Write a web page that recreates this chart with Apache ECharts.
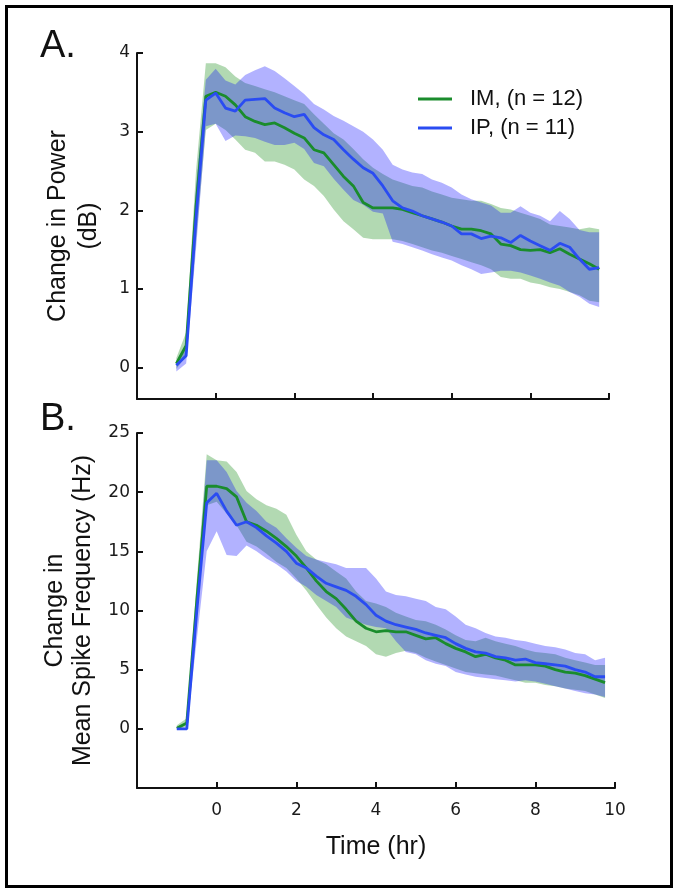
<!DOCTYPE html>
<html>
<head>
<meta charset="utf-8">
<script src="https://cdn.jsdelivr.net/npm/echarts@6/dist/echarts.min.js"></script>
<style>
html,body{margin:0;padding:0;background:#fff;}
#chart{width:680px;height:893px;}
</style>
</head>
<body>
<div id="chart"></div>
<script>
// time (hr)
const time = [-1, -0.75, -0.5, -0.25, 0, 0.25, 0.5, 0.75, 1, 1.25, 1.5, 1.75, 2, 2.25, 2.5, 2.75, 3, 3.25, 3.5, 3.75, 4, 4.25, 4.5, 4.75, 5, 5.25, 5.5, 5.75, 6, 6.25, 6.5, 6.75, 7, 7.25, 7.5, 7.75, 8, 8.25, 8.5, 8.75, 9, 9.25, 9.5, 9.75];

// Panel A: change in power (dB)
const imPowerMean = [0.05, 0.28, 2.05, 3.45, 3.5, 3.45, 3.34, 3.19, 3.13, 3.09, 3.11, 3.05, 2.98, 2.92, 2.77, 2.73, 2.58, 2.43, 2.31, 2.1, 2.03, 2.03, 2.03, 2.01, 1.97, 1.93, 1.89, 1.85, 1.8, 1.76, 1.76, 1.74, 1.7, 1.57, 1.55, 1.5, 1.49, 1.5, 1.46, 1.51, 1.44, 1.38, 1.32, 1.25];
const imPowerUpper = [0.12, 0.45, 2.5, 3.87, 3.87, 3.82, 3.7, 3.62, 3.58, 3.54, 3.5, 3.45, 3.4, 3.35, 3.22, 3.1, 2.98, 2.9, 2.78, 2.65, 2.54, 2.46, 2.39, 2.35, 2.31, 2.29, 2.24, 2.2, 2.16, 2.14, 2.12, 2.12, 2.08, 2.03, 2.01, 1.97, 1.93, 1.89, 1.82, 1.8, 1.78, 1.76, 1.78, 1.76];
const imPowerLower = [-0.02, 0.15, 1.6, 3.02, 3.1, 3.02, 2.9, 2.77, 2.73, 2.62, 2.62, 2.58, 2.52, 2.39, 2.31, 2.18, 2.01, 1.86, 1.76, 1.65, 1.63, 1.63, 1.63, 1.61, 1.57, 1.53, 1.49, 1.46, 1.42, 1.38, 1.34, 1.3, 1.25, 1.15, 1.13, 1.13, 1.08, 1.06, 1.02, 1.0, 0.96, 0.92, 0.85, 0.83];
const ipPowerMean = [0.03, 0.15, 1.9, 3.4, 3.49, 3.3, 3.26, 3.4, 3.41, 3.42, 3.3, 3.24, 3.19, 3.22, 3.05, 2.96, 2.9, 2.77, 2.65, 2.54, 2.47, 2.31, 2.12, 2.03, 1.99, 1.93, 1.89, 1.85, 1.8, 1.7, 1.7, 1.64, 1.67, 1.65, 1.59, 1.68, 1.61, 1.55, 1.49, 1.58, 1.53, 1.38, 1.25, 1.27];
const ipPowerUpper = [0.08, 0.3, 2.3, 3.66, 3.8, 3.65, 3.6, 3.72, 3.78, 3.83, 3.77, 3.68, 3.58, 3.48, 3.35, 3.28, 3.2, 3.14, 3.07, 3.0, 2.9, 2.77, 2.58, 2.52, 2.48, 2.46, 2.39, 2.35, 2.29, 2.2, 2.14, 2.1, 2.06, 1.97, 1.97, 2.05, 1.97, 1.93, 1.86, 1.99, 1.89, 1.75, 1.72, 1.72];
const ipPowerLower = [-0.05, 0.05, 1.5, 3.07, 3.1, 2.88, 2.95, 2.94, 2.92, 2.87, 2.83, 2.83, 2.86, 2.78, 2.6, 2.56, 2.4, 2.26, 2.13, 2.07, 1.98, 1.96, 1.6, 1.57, 1.53, 1.49, 1.44, 1.4, 1.36, 1.3, 1.25, 1.19, 1.21, 1.23, 1.23, 1.21, 1.17, 1.13, 1.08, 1.04, 0.96, 0.9, 0.81, 0.77];

// Panel B: change in mean spike frequency (Hz)
const imFreqMean = [0.05, 0.5, 10.8, 20.5, 20.5, 20.3, 19.6, 17.5, 17.2, 16.7, 16.1, 15.4, 14.6, 13.6, 12.5, 11.6, 11.0, 10.1, 9.1, 8.5, 8.2, 8.3, 8.2, 8.2, 7.9, 7.6, 7.7, 7.2, 6.8, 6.5, 6.1, 6.3, 6.0, 5.8, 5.4, 5.4, 5.4, 5.3, 5.0, 4.8, 4.7, 4.5, 4.2, 3.9];
const imFreqUpper = [0.3, 0.9, 12.5, 23.2, 22.7, 22.6, 21.7, 20.1, 19.4, 18.9, 18.6, 18.1, 16.4, 15.0, 14.3, 13.9, 13.3, 12.7, 11.6, 10.8, 10.6, 10.3, 9.8, 9.5, 9.2, 9.1, 8.8, 8.4, 7.9, 7.5, 7.4, 7.7, 7.4, 7.2, 7.0, 6.7, 6.5, 6.4, 6.3, 6.0, 5.8, 5.6, 5.4, 5.4];
const imFreqLower = [-0.05, 0.2, 9.5, 18.9, 19.2, 18.2, 17.2, 15.8, 15.4, 14.8, 14.1, 13.6, 12.7, 11.7, 10.5, 9.4, 8.5, 7.8, 7.4, 7.0, 6.3, 6.1, 6.4, 6.6, 6.4, 6.0, 5.7, 5.4, 5.1, 4.8, 4.7, 4.6, 4.5, 4.3, 4.1, 3.9, 3.9, 3.7, 3.6, 3.4, 3.3, 3.2, 2.9, 2.6];
const ipFreqMean = [0, 0, 9.9, 19.1, 19.9, 18.4, 17.2, 17.5, 17.0, 16.3, 15.7, 15.0, 14.0, 13.6, 12.9, 12.3, 12.0, 11.7, 11.2, 10.5, 9.6, 9.1, 8.8, 8.6, 8.4, 8.1, 7.9, 7.7, 7.2, 6.8, 6.5, 6.4, 6.1, 6.0, 5.8, 5.9, 5.6, 5.5, 5.4, 5.3, 5.0, 4.8, 4.4, 4.4];
const ipFreqUpper = [0.1, 0.1, 11.5, 22.7, 22.7, 21.7, 20.1, 19.1, 18.4, 17.5, 17.0, 16.1, 15.3, 14.6, 14.3, 14.1, 13.9, 13.6, 13.6, 13.6, 12.7, 11.6, 11.3, 11.2, 11.0, 10.8, 10.3, 10.1, 9.5, 8.8, 8.5, 8.1, 7.8, 7.7, 7.5, 7.4, 7.2, 7.0, 6.9, 6.7, 6.4, 6.3, 5.8, 6.0];
const ipFreqLower = [-0.1, -0.1, 7.5, 15.0, 16.7, 14.7, 14.6, 15.5, 15.0, 14.4, 13.9, 13.3, 12.5, 12.0, 11.3, 10.8, 10.3, 9.4, 9.1, 8.8, 8.6, 8.5, 7.4, 6.5, 6.3, 5.8, 5.5, 5.3, 4.8, 4.6, 4.4, 4.3, 4.2, 4.1, 4.0, 4.1, 4.0, 3.8, 3.6, 3.4, 3.2, 3.0, 2.9, 2.7];

// axis ticks
const xTicks = [-2, 0, 2, 4, 6, 8, 10];
const yTicksA = [0, 1, 2, 3, 4];
const yTicksB = [0, 5, 10, 15, 20, 25];

const nameIM = 'IM, (n = 12)';
const nameIP = 'IP, (n = 11)';

const GREEN = '#1a8c2c';
const BLUE = '#2a4cf2';
const GREEN_FILL = 'rgba(0,128,0,0.3)';
const BLUE_FILL = 'rgba(0,0,255,0.3)';

function pairs(ys) { return time.map((t, i) => [t, ys[i]]); }

// shaded band: one polygon (upper edge then lower edge reversed), placed through the axis scales
function bandSeries(idx, up, lo, fill) {
  const rows = time.map((t, i) => [t, lo[i], up[i]]);
  return {
    type: 'custom', xAxisIndex: idx, yAxisIndex: idx, silent: true, z: 1,
    data: rows,
    encode: { x: 0, y: [1, 2] },
    clip: true,
    renderItem: function (params, api) {
      if (params.dataIndex !== 0) return null;
      const pts = [];
      for (let i = 0; i < rows.length; i++) pts.push(api.coord([rows[i][0], rows[i][2]]));
      for (let i = rows.length - 1; i >= 0; i--) pts.push(api.coord([rows[i][0], rows[i][1]]));
      return { type: 'polygon', shape: { points: pts }, style: { fill: fill, stroke: null } };
    }
  };
}
function meanSeries(idx, name, ys, color) {
  return { type: 'line', name: name, xAxisIndex: idx, yAxisIndex: idx, data: pairs(ys),
    symbol: 'none', showSymbol: false, color: color, lineStyle: { color: color, width: 2.8 }, z: 3 };
}

const tickFont = { fontFamily: 'DejaVu Sans', fontSize: 17, color: '#1a1a1a' };
const axisLine = { show: true, onZero: false, lineStyle: { color: '#111', width: 2 } };

function xAxis(idx, showLabels) {
  return {
    type: 'value', gridIndex: idx, min: -2, max: 10, interval: 2,
    axisLine: axisLine,
    axisTick: { show: true, inside: true, length: 6, lineStyle: { color: '#111', width: 2 }, customValues: xTicks },
    axisLabel: Object.assign({ show: showLabels, margin: 14, customValues: xTicks.filter(v => v >= 0) }, tickFont),
    splitLine: { show: false },
    name: showLabels ? 'Time (hr)' : '',
    nameLocation: 'middle', nameGap: 47,
    nameTextStyle: { fontFamily: 'Liberation Sans', fontSize: 25, color: '#111' }
  };
}
function yAxis(idx, min, max, ticks, name, gap, lh) {
  return {
    type: 'value', gridIndex: idx, min: min, max: max,
    axisLine: axisLine,
    axisTick: { show: true, inside: true, length: 6, lineStyle: { color: '#111', width: 2 }, customValues: ticks },
    axisLabel: Object.assign({ margin: 7, customValues: ticks }, tickFont),
    splitLine: { show: false },
    name: name, nameLocation: 'middle', nameRotate: 90, nameGap: gap,
    nameTextStyle: { fontFamily: 'Liberation Sans', fontSize: 25, color: '#111', lineHeight: lh, align: 'center' }
  };
}

const chart = echarts.init(document.getElementById('chart'), null, { renderer: 'canvas' });
chart.setOption({
  animation: false,
  backgroundColor: '#fff',
  grid: [
    { left: 137, top: 53, width: 472, height: 346 },
    { left: 137, top: 433, width: 478, height: 355 }
  ],
  xAxis: [xAxis(0, false), xAxis(1, true)],
  yAxis: [
    yAxis(0, -0.4, 4, yTicksA, 'Change in Power\n(dB)', 32, 31),
    yAxis(1, -5, 25, yTicksB, 'Change in\nMean Spike Frequency (Hz)', 37, 28)
  ],
  legend: {
    data: [nameIM, nameIP],
    orient: 'vertical', left: 413, top: 83,
    icon: 'rect', itemWidth: 34, itemHeight: 3, itemGap: 7,
    textStyle: { fontFamily: 'Liberation Sans', fontSize: 22, color: '#111', padding: [0, 0, 0, 13] }
  },
  graphic: [
    { type: 'rect', shape: { x: 6.5, y: 6.5, width: 665, height: 880 }, style: { fill: 'none', stroke: '#000', lineWidth: 3 }, silent: true },
    { type: 'text', left: 40, top: 28, style: { text: 'A.', font: '38px "Liberation Sans"', fill: '#111' } },
    { type: 'text', left: 40, top: 401, style: { text: 'B.', font: '38px "Liberation Sans"', fill: '#111' } }
  ],
  series: [
    bandSeries(0, imPowerUpper, imPowerLower, GREEN_FILL),
    bandSeries(0, ipPowerUpper, ipPowerLower, BLUE_FILL),
    meanSeries(0, nameIM, imPowerMean, GREEN),
    meanSeries(0, nameIP, ipPowerMean, BLUE),
    bandSeries(1, imFreqUpper, imFreqLower, GREEN_FILL),
    bandSeries(1, ipFreqUpper, ipFreqLower, BLUE_FILL),
    meanSeries(1, nameIM, imFreqMean, GREEN),
    meanSeries(1, nameIP, ipFreqMean, BLUE)
  ]
});
</script>
</body>
</html>
